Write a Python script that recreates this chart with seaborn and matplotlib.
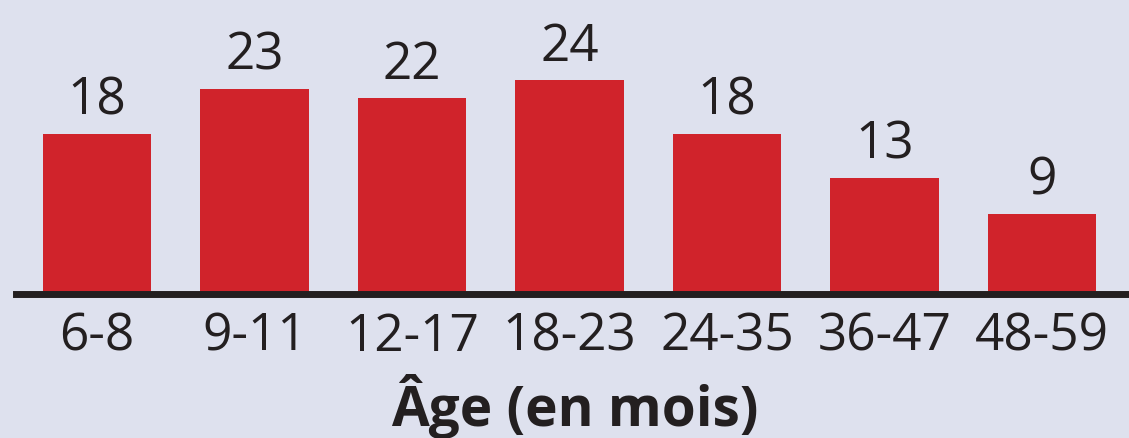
import matplotlib
matplotlib.use("Agg")
import matplotlib.pyplot as plt
import seaborn as sns
import pandas as pd

# data
age_groups = ["6-8", "9-11", "12-17", "18-23", "24-35", "36-47", "48-59"]
percent = [18, 23, 22, 24, 18, 13, 9]
axis_title = "Âge (en mois)"

BG = "#dee1ee"
RED = "#d0232b"
INK = "#231f20"

sns.set_theme(style="white")
plt.rcParams["font.family"] = ["Open Sans", "DejaVu Sans"]

df = pd.DataFrame({"age": age_groups, "pct": percent})

fig = plt.figure(figsize=(11.29, 4.39), dpi=100, facecolor=BG)
ax = fig.add_axes([16 / 1129, 1 - 295 / 439, 1 - 16 / 1129, 295 / 439])
ax.set_facecolor(BG)

sns.barplot(data=df, x="age", y="pct", color=RED, width=0.686,
            saturation=1, linewidth=0, edgecolor="none", ax=ax)

# value labels above bars
for i, v in enumerate(percent):
    ax.annotate(str(v), (i, v), xytext=(0, 6), textcoords="offset points",
                ha="center", va="bottom", fontsize=37, color=INK)

# category positions -> pixel mapping (first centre ~97px, step ~157.5px)
ax.set_xlim(-(97 - 16) / 157.5, (1129 - 97) / 157.5)
ax.set_ylim(0, 295 / 8.9)

for s in ["top", "right", "left"]:
    ax.spines[s].set_visible(False)
ax.spines["bottom"].set_linewidth(5)
ax.spines["bottom"].set_color(INK)
ax.set_yticks([])
ax.set_xlabel("")
ax.set_ylabel("")
ax.tick_params(axis="x", length=0, pad=12, labelsize=37, colors=INK)

fig.text(575 / 1129, 1 - 426 / 439, axis_title, ha="center", va="baseline",
         fontsize=39.5, fontweight="bold", color=INK)

fig.savefig("out.png", dpi=100, facecolor=BG)
